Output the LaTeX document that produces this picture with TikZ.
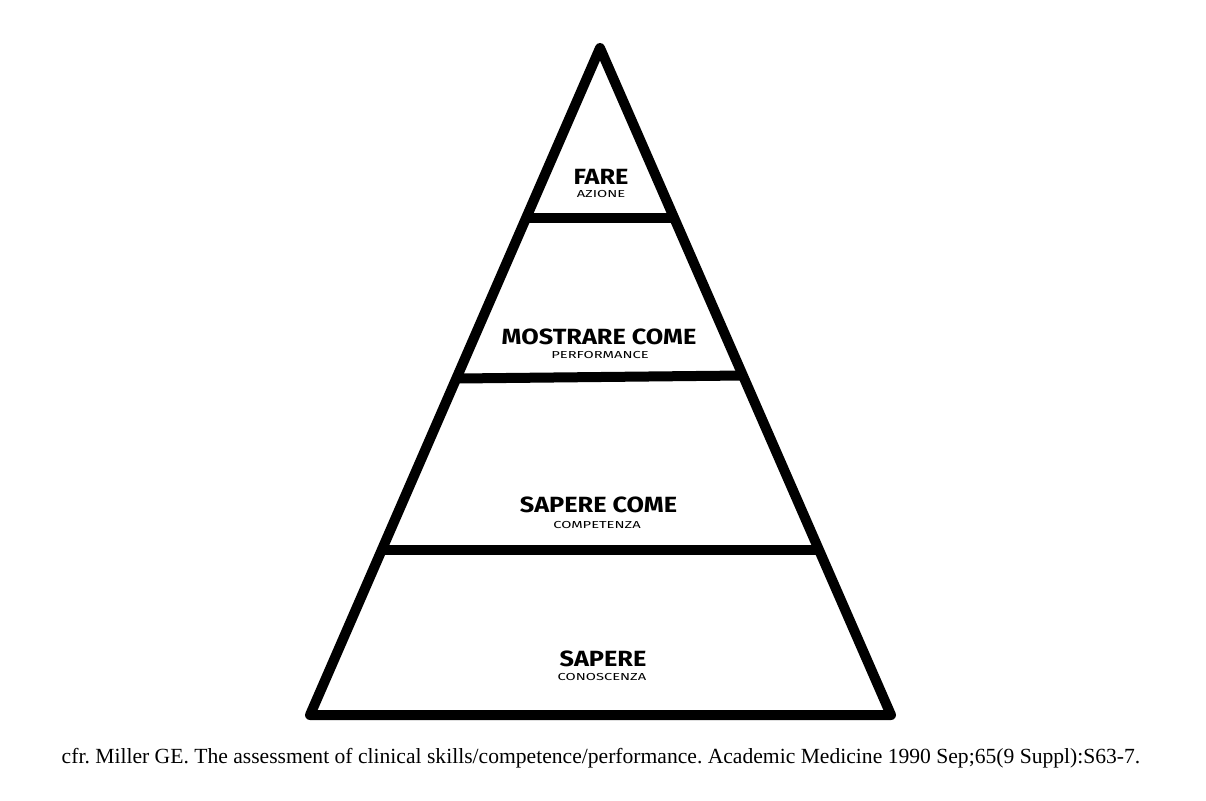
\documentclass[tikz,border=0pt]{standalone}
\usepackage{fontspec}
\setmainfont{Liberation Serif}
\newfontfamily\levelfont[FakeStretch=1.15]{Fira Sans}
\newfontfamily\sublevelfont[FakeStretch=1.45]{Fira Sans}
\begin{document}
\begin{tikzpicture}[x=0.75pt,y=-0.75pt,
  edge/.style={line width=7.5pt,line join=round,line cap=round},
  title/.style={font=\levelfont\bfseries\fontsize{16.5pt}{18pt}\selectfont,inner sep=0pt,anchor=base},
  subtitle/.style={font=\sublevelfont\fontsize{7.6pt}{9pt}\selectfont,inner sep=0pt,anchor=base},
  caption/.style={font=\frenchspacing\fontsize{16.2pt}{18pt}\selectfont,inner sep=0pt,anchor=base}]
\useasboundingbox (0,0) rectangle (1206,800);
% pyramid outline
\coordinate (apex) at (600,48);
\coordinate (bl) at (310,715);
\coordinate (br) at (891,715);
\draw[edge] (apex) -- (bl) -- (br) -- cycle;
% dividing lines between the levels
\coordinate (l1) at (527,218);
\coordinate (r1) at (673.5,218);
\coordinate (l2) at (458,378.5);
\coordinate (r2) at (743,375.5);
\coordinate (l3) at (383,549.5);
\coordinate (r3) at (818,549.5);
\draw[edge,line cap=butt] (l1) -- (r1);
\draw[edge,line cap=butt] (l2) -- (r2);
\draw[edge,line cap=butt] (l3) -- (r3);
% level labels
\node[title] (t1) at (601,184) {FARE};
\node[subtitle] (s1) at (601,197.5) {AZIONE};
\node[title] (t2) at (599,344) {MOSTRARE COME};
\node[subtitle] (s2) at (600,358) {PERFORMANCE};
\node[title] (t3) at (598.5,512) {SAPERE COME};
\node[subtitle] (s3) at (597,528) {COMPETENZA};
\node[title] (t4) at (603,666) {SAPERE};
\node[subtitle] (s4) at (602,680) {CONOSCENZA};
% reference
\node[caption] (cap) at (601,763) {cfr. Miller GE. The assessment of clinical skills/competence/performance. Academic Medicine 1990 Sep;65(9 Suppl):S63-7.};
\end{tikzpicture}
\end{document}
